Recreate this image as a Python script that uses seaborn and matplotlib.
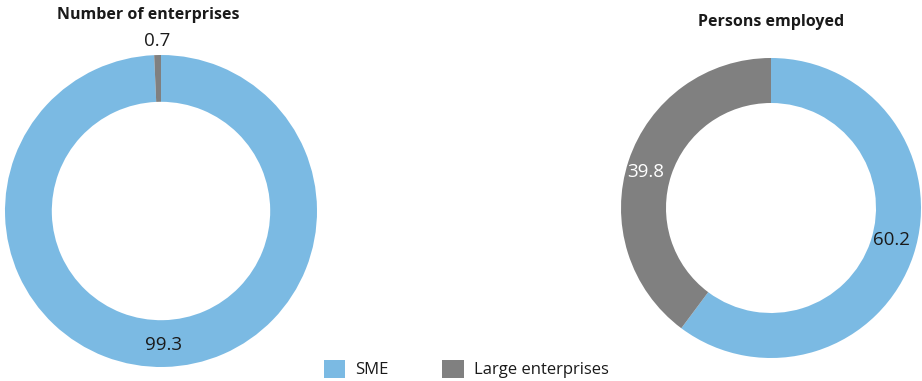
import matplotlib
matplotlib.use("Agg")
import matplotlib.pyplot as plt
from matplotlib.patches import Patch
import numpy as np
import seaborn as sns

categories = ["SME", "Large enterprises"]
enterprises = [99.3, 0.7]
employed = [60.2, 39.8]
titles = ["Number of enterprises", "Persons employed"]

sns.set_theme(style="white")
plt.rcParams["font.family"] = ["Open Sans", "DejaVu Sans"]

colors = ["#7bbae3", "#808080"]

W, H = 922, 381
fig = plt.figure(figsize=(W / 100, H / 100), dpi=100)


def add_donut(cx, cy, r, values, label_r, label_colors, label_size, offsets):
    ax = fig.add_axes([(cx - r) / W, (H - cy - r) / H, 2 * r / W, 2 * r / H])
    wedges, _ = ax.pie(values, colors=colors, startangle=90, counterclock=False,
                       radius=1, wedgeprops=dict(width=0.3, edgecolor="none", linewidth=0))
    ax.set_xlim(-1, 1)
    ax.set_ylim(-1, 1)
    ax.set_aspect("equal")
    ax.axis("off")
    for w, v, lr, lc, off in zip(wedges, values, label_r, label_colors, offsets):
        ang = np.deg2rad((w.theta1 + w.theta2) / 2 + off)
        ax.text(lr * np.cos(ang), lr * np.sin(ang), f"{v:.1f}", ha="center", va="center",
                color=lc, fontsize=label_size, clip_on=False)
    return ax


ax1 = add_donut(161, 211, 156, enterprises, [0.86, 1.09], ["#1a1a1a", "#1a1a1a"], 13.5, [0, 0])
ax2 = add_donut(771, 208, 150, employed, [0.83, 0.87], ["#1a1a1a", "white"], 13.5, [3.4, 2.5])

fig.text(148 / W, 1 - 15 / H, titles[0], ha="center", va="center", fontsize=11.5,
         fontweight="bold", color="#1a1a1a")
fig.text(771 / W, 1 - 22 / H, titles[1], ha="center", va="center", fontsize=11.5,
         fontweight="bold", color="#1a1a1a")

handles = [Patch(facecolor=c, edgecolor="none") for c in colors]
fig.legend(handles, categories, loc="center", bbox_to_anchor=(466 / W, 1 - 369 / H), ncol=2,
           frameon=False, fontsize=12, handlelength=1.3, handleheight=1.3,
           columnspacing=3.2, handletextpad=0.6, labelcolor="#1a1a1a")

fig.savefig("out.png", dpi=100)
